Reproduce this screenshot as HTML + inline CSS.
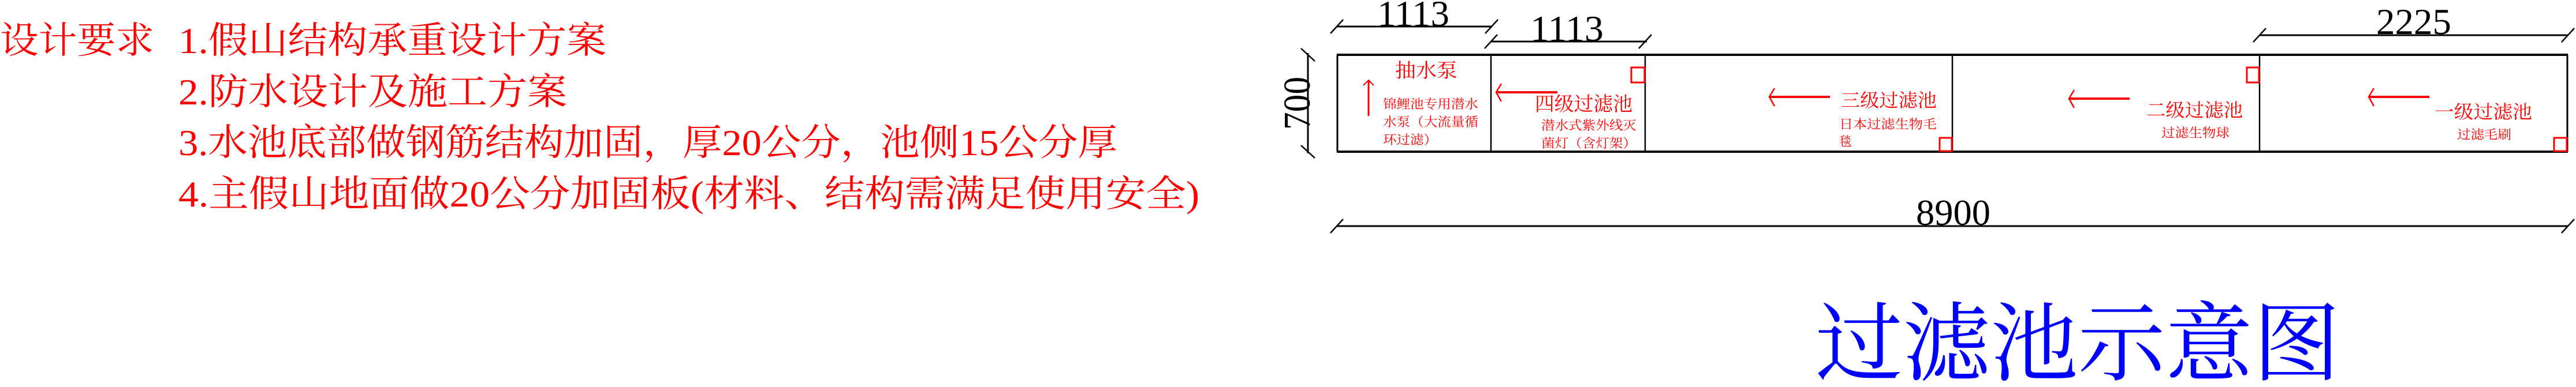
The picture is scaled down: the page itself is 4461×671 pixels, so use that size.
<!DOCTYPE html>
<html><head><meta charset="utf-8"><style>
html,body{margin:0;padding:0;background:#fff;}
svg{display:block;}
.r{fill:#ff0000;font-family:"Liberation Serif","Noto Serif CJK SC",serif;}
.n{fill:#000;font-family:"Liberation Serif",serif;}
</style></head><body>
<svg width="4461" height="671" viewBox="0 0 4461 671" xmlns="http://www.w3.org/2000/svg">
<g class="r" font-size="64">
<text x="0" y="92" textLength="267" lengthAdjust="spacingAndGlyphs">设计要求</text>
<text x="309" y="92" textLength="741" lengthAdjust="spacingAndGlyphs">1.假山结构承重设计方案</text>
<text x="309" y="181" textLength="673" lengthAdjust="spacingAndGlyphs">2.防水设计及施工方案</text>
<text x="309" y="269" textLength="1626" lengthAdjust="spacingAndGlyphs">3.水池底部做钢筋结构加固，厚20公分，池侧15公分厚</text>
<text x="309" y="358" textLength="1768" lengthAdjust="spacingAndGlyphs">4.主假山地面做20公分加固板(材料、结构需满足使用安全)</text>
</g>
<g stroke="#000" fill="none">
<line x1="2315" y1="95" x2="4447" y2="95" stroke-width="4"/>
<line x1="2315" y1="263" x2="4447" y2="263" stroke-width="4"/>
<line x1="2316" y1="95" x2="2316" y2="263" stroke-width="3"/>
<line x1="4446" y1="95" x2="4446" y2="263" stroke-width="3"/>
<line x1="2582" y1="95" x2="2582" y2="263" stroke-width="2.5"/>
<line x1="2849" y1="95" x2="2849" y2="263" stroke-width="2.5"/>
<line x1="3381" y1="95" x2="3381" y2="263" stroke-width="2.5"/>
<line x1="3913" y1="95" x2="3913" y2="263" stroke-width="2.5"/>
<g stroke-width="3">
<line x1="2315" y1="46" x2="2584" y2="46"/>
<line x1="2582" y1="72" x2="2852" y2="72"/>
<line x1="3913" y1="61" x2="4447" y2="61"/>
<line x1="2315" y1="392" x2="4447" y2="392"/>
<line x1="2265" y1="92" x2="2265" y2="266"/>
</g>
<g stroke-width="2.5">
<line x1="2304" y1="58" x2="2326" y2="34"/>
<line x1="2572" y1="58" x2="2594" y2="34"/>
<line x1="2571" y1="84" x2="2593" y2="60"/>
<line x1="2838" y1="84" x2="2860" y2="60"/>
<line x1="3902" y1="73" x2="3924" y2="49"/>
<line x1="4436" y1="73" x2="4458" y2="49"/>
<line x1="2304" y1="404" x2="2326" y2="380"/>
<line x1="4436" y1="404" x2="4458" y2="380"/>
<line x1="2253" y1="84" x2="2277" y2="106"/>
<line x1="2253" y1="252" x2="2277" y2="274"/>
</g>
</g>
<g class="n" font-size="64">
<text x="2385" y="45" textLength="125" lengthAdjust="spacingAndGlyphs">1113</text>
<text x="2650" y="71" textLength="127" lengthAdjust="spacingAndGlyphs">1113</text>
<text x="4115" y="59" textLength="130" lengthAdjust="spacingAndGlyphs">2225</text>
<text x="3318" y="390" textLength="129" lengthAdjust="spacingAndGlyphs">8900</text>
<text transform="translate(2268,225) rotate(-90)" x="0" y="0" font-size="66" textLength="92" lengthAdjust="spacingAndGlyphs">700</text>
</g>
<g stroke="#ff0000" stroke-width="3" fill="none">
<rect x="2825" y="117" width="23" height="26"/>
<rect x="3359" y="239" width="21" height="23"/>
<rect x="3891" y="117" width="21" height="26"/>
<rect x="4423" y="239" width="22" height="23"/>
</g>
<g stroke="#ff0000" fill="none" stroke-width="3">
<line x1="2370" y1="139" x2="2370" y2="201"/>
<polyline points="2361,148 2370,139 2379,148" stroke-width="2"/>
<line x1="2591" y1="160" x2="2697" y2="160" stroke-width="4"/>
<polyline points="2600,145 2591,160 2600,176" stroke-width="2.5"/>
<line x1="3064" y1="168" x2="3169" y2="168" stroke-width="4"/>
<polyline points="3073,153 3064,168 3073,184" stroke-width="2.5"/>
<line x1="3583" y1="171" x2="3688" y2="171" stroke-width="4"/>
<polyline points="3592,156 3583,171 3592,187" stroke-width="2.5"/>
<line x1="4102" y1="168" x2="4207" y2="168" stroke-width="4"/>
<polyline points="4111,153 4102,168 4111,184" stroke-width="2.5"/>
</g>
<g class="r">
<text x="2416" y="134" font-size="34" textLength="108" lengthAdjust="spacingAndGlyphs">抽水泵</text>
<text x="2395" y="188" font-size="22" textLength="165" lengthAdjust="spacingAndGlyphs">锦鲤池专用潜水</text>
<text x="2395" y="219" font-size="22" textLength="165" lengthAdjust="spacingAndGlyphs">水泵（大流量循</text>
<text x="2395" y="250" font-size="22" textLength="94" lengthAdjust="spacingAndGlyphs">环过滤）</text>
<text x="2658" y="192" font-size="34" textLength="169" lengthAdjust="spacingAndGlyphs">四级过滤池</text>
<text x="2669" y="225" font-size="22" textLength="165" lengthAdjust="spacingAndGlyphs">潜水式紫外线灭</text>
<text x="2669" y="256" font-size="22" textLength="165" lengthAdjust="spacingAndGlyphs">菌灯（含灯架）</text>
<text x="3188" y="185" font-size="32" textLength="166" lengthAdjust="spacingAndGlyphs">三级过滤池</text>
<text x="3185" y="223" font-size="22" textLength="169" lengthAdjust="spacingAndGlyphs">日本过滤生物毛</text>
<text x="3185" y="253" font-size="22">毯</text>
<text x="3717" y="202" font-size="32" textLength="167" lengthAdjust="spacingAndGlyphs">二级过滤池</text>
<text x="3743" y="238" font-size="22" textLength="118" lengthAdjust="spacingAndGlyphs">过滤生物球</text>
<text x="4216" y="205" font-size="32" textLength="169" lengthAdjust="spacingAndGlyphs">一级过滤池</text>
<text x="4255" y="241" font-size="22" textLength="94" lengthAdjust="spacingAndGlyphs">过滤毛刷</text>
</g>
<text x="3144" y="648" fill="#0000ff" font-size="150" font-family="'Liberation Serif','Noto Serif CJK SC',serif" textLength="909" lengthAdjust="spacingAndGlyphs">过滤池示意图</text>
</svg>
</body></html>
